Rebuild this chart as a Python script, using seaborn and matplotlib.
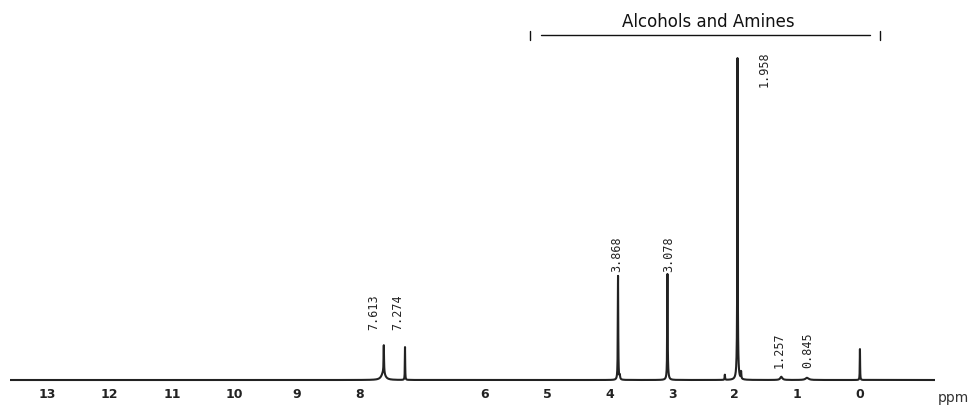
"""1H NMR spectrum with peak labels and a region bracket."""

import numpy as np
import matplotlib
matplotlib.use("Agg")
import matplotlib.pyplot as plt
import seaborn as sns

# peak list (ppm, relative height, half width)
peak_ppm = [7.613, 7.620, 7.274, 3.868, 3.840, 3.078, 3.070, 2.160,
            1.958, 1.958, 1.900, 1.257, 0.845, 0.000]
peak_height = [8.6, 2.3, 10.2, 32.3, 1.2, 32.0, 1.2, 1.6,
               86.0, 14.0, 2.2, 1.0, 0.7, 9.6]
peak_hwhm = [0.004, 0.035, 0.003, 0.004, 0.006, 0.004, 0.015, 0.004,
             0.003, 0.010, 0.004, 0.02, 0.03, 0.003]

# labelled shifts
label_text = ["7.613", "7.274", "3.868", "3.078", "1.958", "1.257", "0.845"]

tick_values = [13, 12, 11, 10, 9, 8, 6, 5, 4, 3, 2, 1, 0]
region_name = "Alcohols and Amines"
region_span = (5.10, -0.16)

# where the labels sit (ppm, intensity) - layout only
label_pos = [(7.77, 15.5), (7.385, 15.5), (3.884, 33.5), (3.053, 33.5),
             (1.534, 91.0), (1.295, 3.7), (0.831, 3.7)]

x_lo, x_hi = -1.2, 13.59
grid = np.union1d(np.linspace(x_lo, x_hi, 30000), peak_ppm)
spectrum = np.zeros_like(grid)
for c, h, w in zip(peak_ppm, peak_height, peak_hwhm):
    spectrum += h * w**2 / ((grid - c) ** 2 + w**2)

sns.set_style("white")
fig = plt.figure(figsize=(9.77, 4.05), dpi=100)
ax = fig.add_axes([10 / 977, 23 / 405, 925 / 977, 377 / 405])

sns.lineplot(x=grid, y=spectrum, ax=ax, color="#222222", linewidth=1.5,
             estimator=None, sort=False)

ax.set_xlim(x_hi, x_lo)
ax.set_ylim(-0.62, 116.5)
for s in ax.spines.values():
    s.set_visible(False)
ax.set_yticks([])
ax.set_xticks(tick_values)
ax.set_xticklabels([str(t) for t in tick_values], fontweight="bold",
                   fontsize=9, color="#222222")
ax.tick_params(axis="x", length=0, pad=4)
ax.set_xlabel("")
ax.set_ylabel("")

for txt, (px, py) in zip(label_text, label_pos):
    ax.text(px, py, txt, rotation=90, ha="center", va="bottom",
            family="DejaVu Sans Mono", fontsize=8.5, color="#222222")

# region bracket
y_br = 107.2
ax.plot(region_span, [y_br, y_br], color="#111111", lw=1, clip_on=False)
for xe in (5.275, -0.32):
    ax.plot([xe, xe], [105.6, 108.4], color="#111111", lw=1, clip_on=False)
ax.text(sum(region_span) / 2 - 0.04, 109.6, region_name, ha="center",
        va="baseline", fontsize=12, color="#111111")

fig.text(953 / 977, 1 - 398 / 405, "ppm", ha="center", va="center",
         fontsize=10, color="#333333")

fig.savefig("out.png", dpi=100)
